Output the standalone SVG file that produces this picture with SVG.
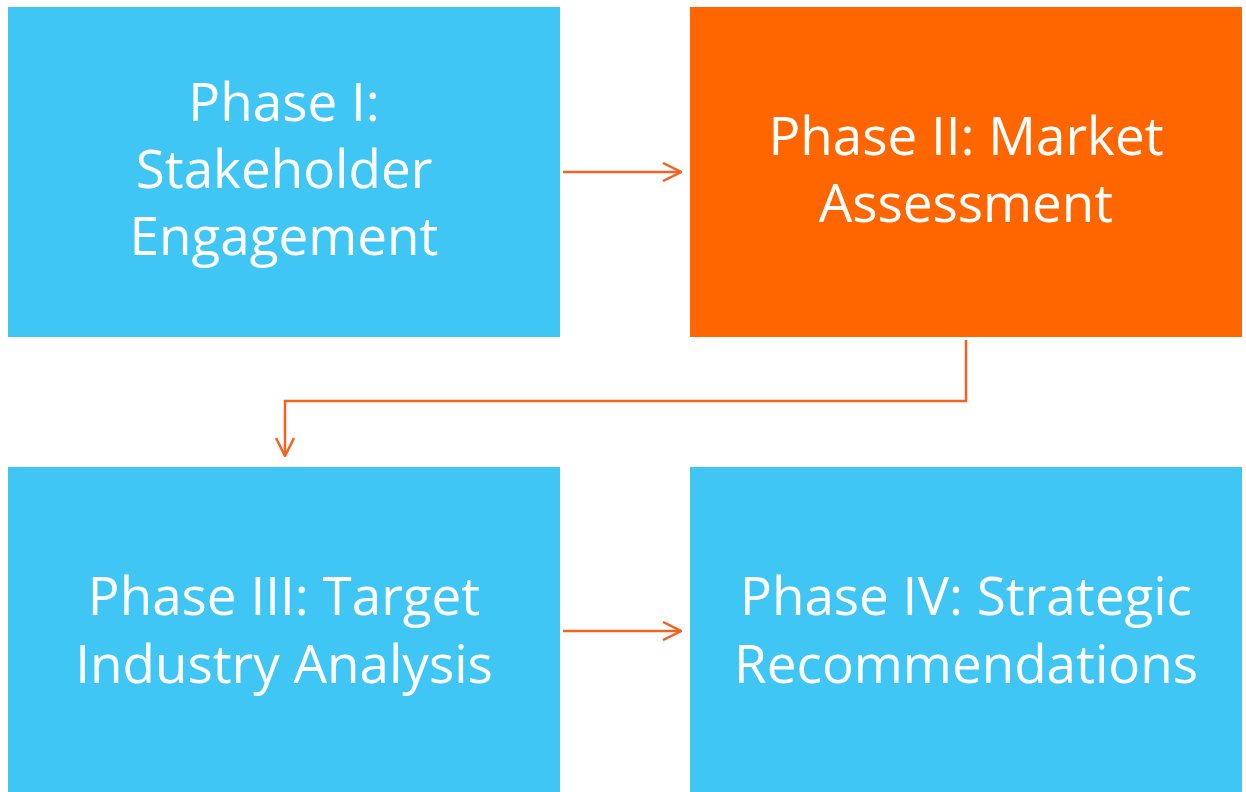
<svg xmlns="http://www.w3.org/2000/svg" width="1246" height="792" viewBox="0 0 1246 792">
<defs>
<style>
.blue{fill:#3fc6f4}
.orange{fill:#ff6600}
.t{fill:#ffffff;font-family:"Open Sans","Liberation Sans",sans-serif;font-size:53px;text-anchor:middle}
.c{fill:none;stroke:#f26322;stroke-width:2.5}
</style>
<marker id="ah" viewBox="0 0 20 20" refX="19" refY="10" markerWidth="20" markerHeight="20" markerUnits="userSpaceOnUse" orient="auto">
<path d="M1,1 L19,10 L1,19" fill="none" stroke="#f26322" stroke-width="2.5"/>
</marker>
</defs>
<rect width="1246" height="792" fill="#ffffff"/>
<g id="node1"><rect class="blue" x="8" y="7" width="552" height="330"/>
<text class="t"><tspan x="284" y="121">Phase I:</tspan><tspan x="284" y="188">Stakeholder</tspan><tspan x="284" y="255">Engagement</tspan></text></g>
<g id="node2"><rect class="orange" x="690" y="7" width="552" height="330"/>
<text class="t"><tspan x="966" y="155">Phase II: Market</tspan><tspan x="966" y="222">Assessment</tspan></text></g>
<g id="node3"><rect class="blue" x="8" y="467" width="552" height="325"/>
<text class="t"><tspan x="284" y="615">Phase III: Target</tspan><tspan x="284" y="683">Industry Analysis</tspan></text></g>
<g id="node4"><rect class="blue" x="690" y="467" width="552" height="325"/>
<text class="t"><tspan x="966" y="615">Phase IV: Strategic</tspan><tspan x="966" y="683">Recommendations</tspan></text></g>
<g id="connectors">
<path class="c" d="M563,172 H681" marker-end="url(#ah)"/>
<path class="c" d="M966,340 V401 H285 V456" marker-end="url(#ah)"/>
<path class="c" d="M563,631 H681" marker-end="url(#ah)"/>
</g>
</svg>
